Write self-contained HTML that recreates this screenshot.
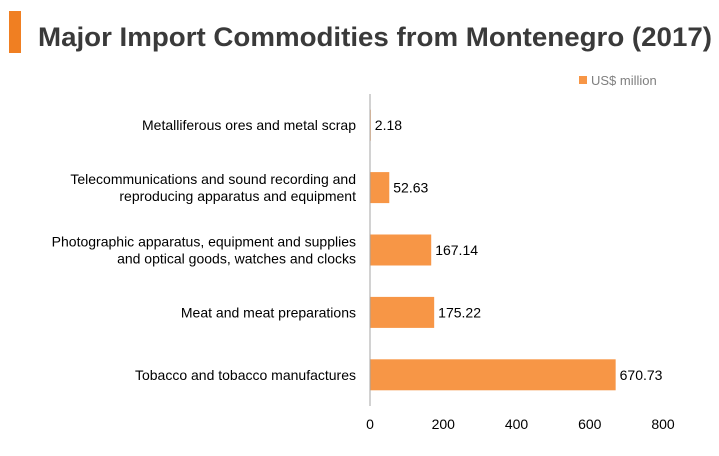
<!DOCTYPE html>
<html><head><meta charset="utf-8"><style>
body{margin:0;background:#fff;font-family:"Liberation Sans",Arial,sans-serif;}
svg text{font-family:"Liberation Sans",Arial,sans-serif;}
</style></head><body>
<svg width="719" height="451">
<rect x="9" y="11" width="12" height="42" fill="#f07f22"/>
<text x="38" y="46" font-size="27" font-weight="bold" fill="#3a3a3a" textLength="674" lengthAdjust="spacingAndGlyphs">Major Import Commodities from Montenegro (2017)</text>
<rect x="579" y="76" width="8" height="8" fill="#f79646"/>
<text x="591" y="85" font-size="13" fill="#7f7f7f">US$ million</text>
<g id="plot"></g>
</svg>
<script>
const categories=[["Metalliferous ores and metal scrap"],["Telecommunications and sound recording and","reproducing apparatus and equipment"],["Photographic apparatus, equipment and supplies","and optical goods, watches and clocks"],["Meat and meat preparations"],["Tobacco and tobacco manufactures"]];
const values=[2.18,52.63,167.14,175.22,670.73];
const valueLabels=["2.18","52.63","167.14","175.22","670.73"];
const ticks=[0,200,400,600,800];
const x0=370,x1=663,yTop=94,yBottom=406,xmax=800;
const xs=v=>x0+(v/xmax)*(x1-x0);
const band=(yBottom-yTop)/categories.length;
const yc=i=>yTop+band*(i+0.5);
const g=document.getElementById('plot');
const NS="http://www.w3.org/2000/svg";
function mk(t,a){const e=document.createElementNS(NS,t);for(const k in a)e.setAttribute(k,a[k]);g.appendChild(e);return e;}
values.forEach((v,i)=>{
 const b=mk('rect',{x:x0,y:yc(i)-15.5,width:xs(v)-x0,height:31,fill:'#f79646'});
 
 
 const t=mk('text',{x:xs(v)+4,y:yc(i)+5,'font-size':14,fill:'#000'});t.textContent=valueLabels[i];
 
 
 const lines=categories[i];
 lines.forEach((l,j)=>{
  const c=mk('text',{x:356,y:yc(i)+5+(j-(lines.length-1)/2)*17,'font-size':14,fill:'#000','text-anchor':'end'});c.textContent=l;
  
  
 });
});
const ax=mk('line',{x1:x0,x2:x0,y1:yTop,y2:yBottom,stroke:'#a6a6a6','stroke-width':1});


ticks.forEach(t=>{
 const e=mk('text',{x:xs(t),y:429,'font-size':14,fill:'#000','text-anchor':'middle'});e.textContent=t;
 
 
});
</script>
</body></html>
